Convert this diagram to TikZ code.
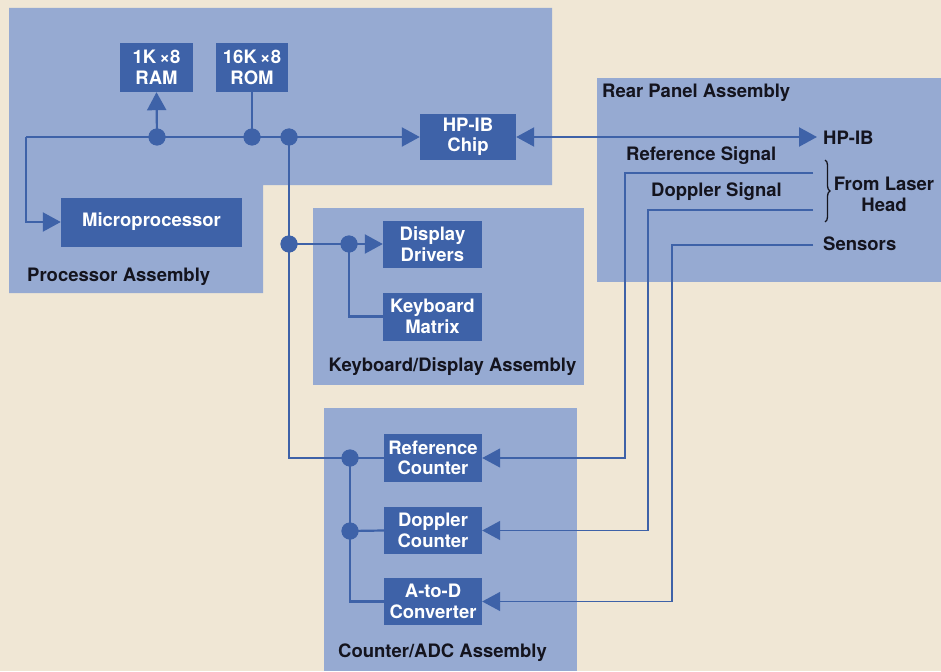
\documentclass[tikz,border=0pt]{standalone}
\usepackage{fontspec}
\setmainfont{TeX Gyre Heros}
\usetikzlibrary{arrows.meta,decorations.pathreplacing}
\definecolor{bg}{RGB}{240,231,213}
\definecolor{panel}{RGB}{150,170,210}
\definecolor{boxc}{RGB}{62,98,168}
\definecolor{ink}{RGB}{20,20,30}
\begin{document}
\begin{tikzpicture}[x=1pt,y=-1pt,
  boxn/.style={fill=boxc,text=white,font=\bfseries\fontsize{18.5}{20.5}\selectfont,align=center,inner sep=0pt},
  lbl/.style={text=ink,font=\bfseries\fontsize{18.5}{21}\selectfont,inner sep=0pt},
  tip/.tip={Triangle[length=18pt,width=19pt]},
  wire/.style={draw=boxc,line width=2.2pt},
  sig/.style={draw=boxc,line width=1.6pt,-tip},
  arr/.style={wire,-tip},
  dotn/.style={circle,fill=boxc,minimum size=17pt,inner sep=0pt}]
\useasboundingbox (0,0) rectangle (941,671);
\fill[bg] (0,0) rectangle (941,671);
% panels
\fill[panel] (9,8) -- (552,8) -- (552,185) -- (263,185) -- (263,293) -- (9,293) -- cycle;
\fill[panel] (313,208) rectangle (584,385);
\fill[panel] (324,408) rectangle (577,671);
\fill[panel] (597,78) rectangle (941,282);
% boxes
\node[boxn,minimum width=73pt,minimum height=49pt] (ram) at (156.5,67.5) {1K\,×8\\RAM};
\node[boxn,minimum width=72pt,minimum height=49pt] (rom) at (252,67.5) {16K\,×8\\ROM};
\node[boxn,minimum width=181pt,minimum height=49pt] (micro) at (151.5,222) {Microprocessor};
\node[boxn,minimum width=96pt,minimum height=46pt] (hpib) at (468,137) {HP-IB\\Chip};
\node[boxn,minimum width=99pt,minimum height=47pt] (disp) at (432.5,244) {Display\\Drivers};
\node[boxn,minimum width=99pt,minimum height=48pt] (kbd) at (432.5,316.5) {Keyboard\\Matrix};
\node[boxn,minimum width=98pt,minimum height=48pt] (refc) at (433,458) {Reference\\Counter};
\node[boxn,minimum width=98pt,minimum height=47pt] (dopc) at (433,530.5) {Doppler\\Counter};
\node[boxn,minimum width=98pt,minimum height=47pt] (adc) at (433,601.5) {A-to-D\\Converter};
% junctions
\node[dotn] (d1) at (157,137) {};
\node[dotn] (d2) at (252,137) {};
\node[dotn] (d3) at (289,137) {};
\node[dotn] (d4) at (289,244) {};
\node[dotn] (d5) at (349,244) {};
\node[dotn] (d6) at (350,458) {};
\node[dotn] (d7) at (350,531) {};
% coordinates
\coordinate (busL) at (26,137);
\coordinate (hpibR) at (817,137);
\coordinate (refS) at (813,173);
\coordinate (dopS) at (813,210);
\coordinate (senS) at (813,245);
\coordinate (refB) at (625,458);
\coordinate (dopB) at (648,530.5);
\coordinate (senB) at (672,601.5);
% wires
\draw[arr] (busL) -- (hpib.west);
\draw[arr] (busL) |- (micro.west);
\draw[arr] (d1.center) -- (ram.south);
\draw[wire] (d2.center) -- (rom.south);
\draw[wire] (d3.center) |- (d6.center);
\draw[arr] (d4.center) -- (disp.west);
\draw[wire] (d5.center) |- (kbd.west);
\draw[wire] (d6.center) -- (refc.west);
\draw[wire] (d7.center) -- (dopc.west);
\draw[wire] (d6.center) |- (adc.west);
\draw[wire,tip-tip] (hpib.east) -- (hpibR);
\draw[sig] (refS) -| (refB) -- (refc.east);
\draw[sig] (dopS) -| (dopB) -- (dopc.east);
\draw[sig] (senS) -| (senB) -- (adc.east);
% redraw dots on top
\foreach \d in {d1,d2,d3,d4,d5,d6,d7} \fill[boxc] (\d) circle (8.5pt);
% labels
\node[lbl,anchor=west] (pa) at (27,277) {Processor Assembly};
\node[lbl] (kda) at (452.5,367) {Keyboard/Display Assembly};
\node[lbl] (cada) at (442.5,653) {Counter/ADC Assembly};
\node[lbl,anchor=west] (rpa) at (602,93) {Rear Panel Assembly};
\node[lbl,anchor=west] (hpl) at (823,138) {HP-IB};
\node[lbl,anchor=west] (rsl) at (626,156) {Reference Signal};
\node[lbl,anchor=west] (dsl) at (651,192) {Doppler Signal};
\node[lbl,align=center] (fl) at (884,194) {From Laser\\Head};
\node[lbl,anchor=west] (sl) at (823,244) {Sensors};
\draw[ink,line width=1.3pt,decorate,decoration={brace,amplitude=5pt}] (825,160) -- (825,222);
\end{tikzpicture}
\end{document}
